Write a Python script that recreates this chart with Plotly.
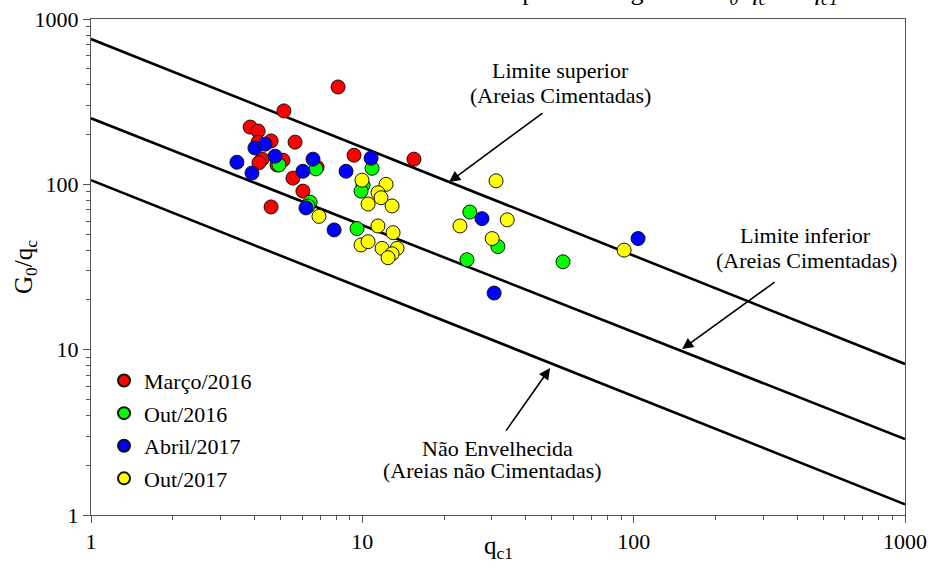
import plotly.graph_objects as go

# --- Field data: normalised cone resistance q_c1 and G0/q_c per campaign ---
marco2016_qc1 = [8.14, 5.14, 3.86, 4.13, 4.13, 4.61, 5.65, 4.27, 4.16, 5.10, 4.85, 6.81, 5.55, 6.04, 4.61, 9.32, 15.5]
marco2016_g0qc = [388, 278, 222, 210, 180, 183, 180, 142, 135, 140, 131, 127, 109, 91, 73, 150, 142]

out2016_qc1 = [4.93, 6.75, 10.86, 10.06, 9.89, 6.42, 6.31, 9.56, 24.9, 31.6, 24.3, 54.9]
out2016_g0qc = [131, 124, 125, 99, 91, 78, 74, 54, 68, 42, 35, 34]

abril2017_qc1 = [4.02, 4.38, 3.45, 3.92, 4.77, 6.58, 6.04, 8.71, 10.77, 6.20, 7.87, 27.6, 103.8, 30.6]
abril2017_g0qc = [166, 175, 136, 117, 148, 142, 120, 120, 144, 72, 53, 62, 47, 22]

out2017_qc1 = [9.97, 12.23, 11.42, 11.72, 10.50, 12.87, 6.92, 31.1, 22.9, 34.2, 11.42, 12.98,
               9.89, 10.50, 11.82, 13.43, 12.87, 12.44, 30.1, 92.2]
out2017_g0qc = [106, 100, 89, 83, 76, 74, 64, 105, 56, 61, 56, 51,
                43, 45, 41, 41, 38, 36, 47, 40]

# --- Boundary lines (end points at q_c1 = 1 and q_c1 = 1000) ---
limit_qc1 = [1, 1000]
limite_superior = [757, 8.2]
limite_inferior = [251, 2.88]
nao_envelhecida = [106, 1.16]

series = [
    ("Março/2016", marco2016_qc1, marco2016_g0qc, "#ff0000"),
    ("Out/2016", out2016_qc1, out2016_g0qc, "#00ff00"),
    ("Abril/2017", abril2017_qc1, abril2017_g0qc, "#0000ff"),
    ("Out/2017", out2017_qc1, out2017_g0qc, "#ffff00"),
]

FONT = "Liberation Serif"

fig = go.Figure()

for ys in (limite_superior, limite_inferior, nao_envelhecida):
    fig.add_trace(go.Scatter(
        x=limit_qc1, y=ys, mode="lines",
        line=dict(color="black", width=2.6),
        showlegend=False, hoverinfo="skip",
    ))

for name, xs, ys, col in series:
    fig.add_trace(go.Scatter(
        x=xs, y=ys, mode="markers", name=name, legendgroup=name,
        marker=dict(size=14, color=col, line=dict(color="#111", width=1)),
    ))

axis_common = dict(
    type="log", range=[0, 3], dtick=1, automargin=False,
    showgrid=False, zeroline=False,
    showline=True, linecolor="#555", linewidth=1, mirror=True,
    ticks="outside", ticklen=7, tickcolor="#555",
    tickfont=dict(family=FONT, size=22, color="black"),
    minor=dict(dtick="D1", ticks="outside", ticklen=4, tickcolor="#555", showgrid=False),
)

fig.update_xaxes(**axis_common)
fig.update_yaxes(**axis_common)

ann_font = dict(family=FONT, size=22, color="black")
title_font = dict(family=FONT, size=25, color="black")


def label(x, y, text):
    return dict(x=x, y=y, xref="x", yref="y", showarrow=False,
                xanchor="center", yanchor="middle", text=text, font=ann_font)


def arrow(tip, tail):
    return dict(x=tip[0], y=tip[1], ax=tail[0], ay=tail[1],
                xref="x", yref="y", axref="x", ayref="y",
                text="", showarrow=True, arrowhead=2, arrowsize=1.4,
                arrowwidth=1.6, arrowcolor="black", standoff=0, startstandoff=0)


annotations = [
    label(1.7287, 2.6915, "Limite superior"),
    label(1.7287, 2.5402, "(Areias Cimentadas)"),
    label(2.6318, 1.6933, "Limite inferior"),
    label(2.6355, 1.5420, "(Areias Cimentadas)"),
    label(1.4965, 0.4047, "Não Envelhecida"),
    label(1.4781, 0.2716, "(Areias não Cimentadas)"),
    arrow((1.3196, 2.0139), (1.6697, 2.4374)),
    arrow((2.1784, 1.0036), (2.5249, 1.4150)),
    arrow((1.6919, 0.8887), (1.5260, 0.5015)),
    # axis titles
    dict(x=0.5, y=-0.0665, xref="paper", yref="paper", showarrow=False,
         xanchor="center", yanchor="middle",
         text="q<sub>c1</sub>", font=title_font),
    dict(x=-0.081, y=0.5, xref="paper", yref="paper", showarrow=False, textangle=-90,
         xanchor="center", yanchor="middle",
         text="G<sub>0</sub>/q<sub>c</sub>", font=title_font),
    # chart heading, sitting above the frame
    dict(x=0.92, y=1.0, xref="paper", yref="paper", yshift=8,
         xanchor="right", yanchor="bottom", showarrow=False,
         text="Resultados dos pontos no gráfico <i>G<sub>0</sub>/q<sub>c</sub> vs. q<sub>c1</sub></i>",
         font=dict(family=FONT, size=26, color="black")),
]

fig.update_layout(
    width=933, height=572,
    margin=dict(l=91, r=28, t=19, b=57),
    paper_bgcolor="white", plot_bgcolor="white",
    showlegend=True,
    legend=dict(x=0.016, y=0.313, xanchor="left", yanchor="top",
                font=dict(family=FONT, size=22, color="black"),
                bgcolor="rgba(0,0,0,0)", tracegroupgap=1, itemsizing="constant"),
    annotations=annotations,
)

fig.write_html("out.html")
